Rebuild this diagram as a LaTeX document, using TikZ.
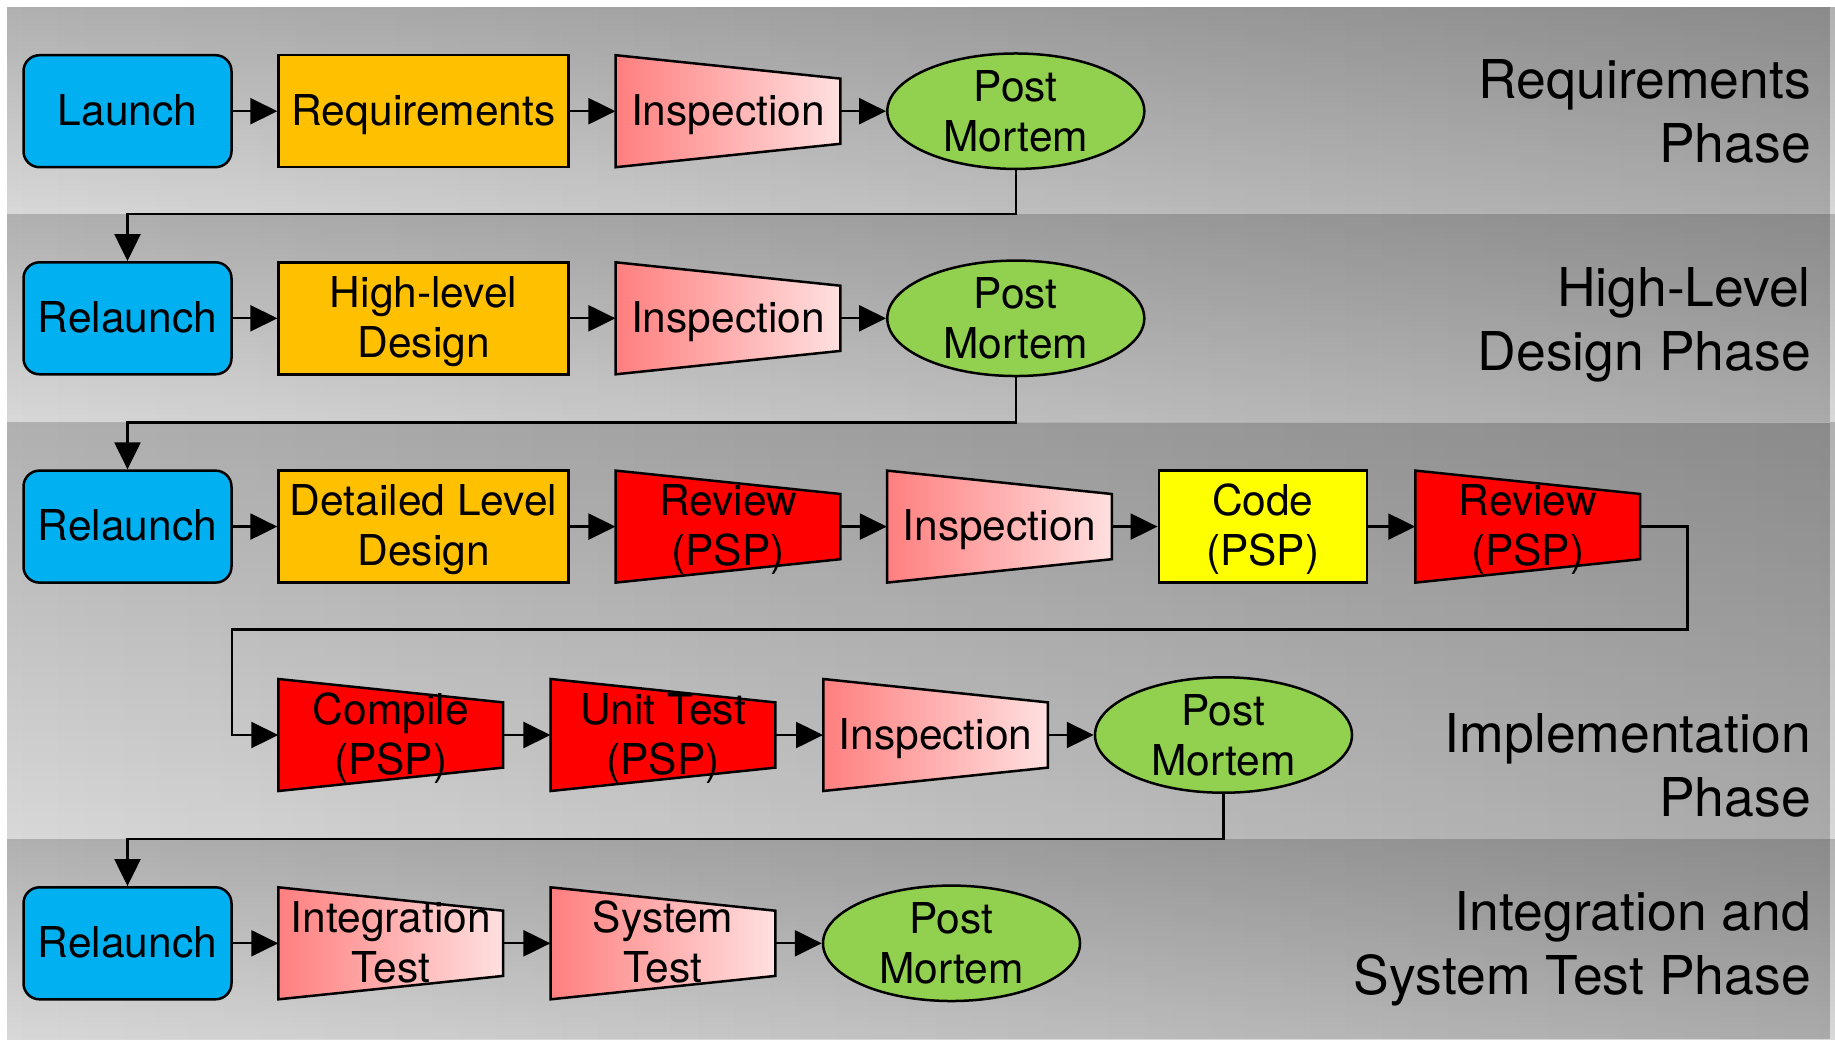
\documentclass[tikz,border=0pt]{standalone}
\usepackage{fontspec}
\setmainfont{TeX Gyre Heros}
\usetikzlibrary{shapes.geometric,arrows.meta,fadings}
\definecolor{cblue}{HTML}{00B0F0}
\definecolor{corange}{HTML}{FFC000}
\definecolor{cgreen}{HTML}{92D050}
\definecolor{cyellow}{HTML}{FFFF00}
\definecolor{cred}{HTML}{FF0000}
\definecolor{pinkL}{HTML}{FF7F7F}
\definecolor{pinkR}{HTML}{FFE0E0}
\definecolor{bTop}{HTML}{B0B0B0}
\definecolor{bBot}{HTML}{D8D8D8}
\newcommand\ls{\rule[-10pt]{0pt}{48pt}}
\newcommand\lp{\rule[-12pt]{0pt}{58pt}}
\newcommand\trapz[5]{%
  \path[#4, draw=black, line width=2.5pt, line join=miter]
    (#2-112.35,#3-56) -- (#2+112.35,#3-32.6) -- (#2+112.35,#3+32.6) -- (#2-112.35,#3+56) -- cycle;
  \node[txt, minimum width=224.7pt, minimum height=112pt] (#1) at (#2,#3) {#5};
}
\newcommand\bandrect[2]{%
  \shade[top color=bTop, bottom color=bBot] (7,#1) rectangle (1835,#2);
  \fill[black, fill opacity=0.21, path fading=west] (7,#1) rectangle (1835,#2);
}
\begin{document}
\begin{tikzpicture}[x=1pt,y=-1pt,
  txt/.style={inner sep=0pt, align=center, font=\fontsize{42.5}{50}\selectfont},
  roundbox/.style={txt, draw=black, line width=2.5pt, fill=cblue, rounded corners=16pt, minimum width=208pt, minimum height=112pt},
  rectbox/.style={txt, draw=black, line width=2.5pt, fill=corange, minimum width=290pt, minimum height=112pt},
  codebox/.style={txt, draw=black, line width=2.5pt, fill=cyellow, minimum width=208pt, minimum height=112pt},
  ell/.style={txt, ellipse, draw=black, line width=2.5pt, fill=cgreen, minimum width=257pt, minimum height=112pt},
  phase/.style={inner sep=0pt, align=right, anchor=east, font=\fontsize{53.5}{64}\selectfont},
  arr/.style={line width=2.3pt, -{Triangle[length=27pt,width=26pt]}}
]
\useasboundingbox (0,0) rectangle (1835,1039);
\fill[white] (0,0) rectangle (1835,1039);
% bands
\bandrect{7}{214.2}
\bandrect{214.2}{422.5}
\bandrect{422.5}{839.1}
\bandrect{839.1}{1039}
% phase labels
\node[phase] (ph1) at (1811,113) {\lp Requirements\\\lp Phase};
\node[phase] (ph2) at (1811,321) {\lp High-Level\\\lp Design Phase};
\node[phase] (ph3) at (1811,767) {\lp Implementation\\\lp Phase};
\node[phase] (ph4) at (1811,945) {\lp Integration and\\\lp System Test Phase};
% row 1
\node[roundbox] (la1) at (127.5,111.2) {\ls Launch};
\node[rectbox] (rq1) at (423.6,111.2) {\ls Requirements};
\trapz{in1}{728}{111.2}{left color=pinkL, right color=pinkR}{\ls Inspection}
\node[ell] (pm1) at (1015.8,111.2) {Post\\Mortem};
% row 2
\node[roundbox] (la2) at (127.5,318.3) {\ls Relaunch};
\node[rectbox] (rq2) at (423.6,318.3) {\ls High-level\\\ls Design};
\trapz{in2}{728}{318.3}{left color=pinkL, right color=pinkR}{\ls Inspection}
\node[ell] (pm2) at (1015.8,318.3) {Post\\Mortem};
% row 3
\node[roundbox] (la3) at (127.5,526.6) {\ls Relaunch};
\node[rectbox] (dl3) at (423.6,526.6) {\ls Detailed Level\\\ls Design};
\trapz{rv3}{728}{526.6}{fill=cred}{\ls Review\\\ls (PSP)}
\trapz{in3}{999.4}{526.6}{left color=pinkL, right color=pinkR}{\ls Inspection}
\node[codebox] (cd3) at (1262.8,526.6) {\ls Code\\\ls (PSP)};
\trapz{rw3}{1527.8}{526.6}{fill=cred}{\ls Review\\\ls (PSP)}
% row 4
\trapz{cp4}{390.8}{735}{fill=cred}{\ls Compile\\\ls (PSP)}
\trapz{ut4}{663}{735}{fill=cred}{\ls Unit Test\\\ls (PSP)}
\trapz{in4}{935.6}{735}{left color=pinkL, right color=pinkR}{\ls Inspection}
\node[ell] (pm4) at (1223.5,735) {Post\\Mortem};
% row 5
\node[roundbox] (la5) at (127.5,943.3) {\ls Relaunch};
\trapz{it5}{390.8}{943.3}{left color=pinkL, right color=pinkR}{\ls Integration\\\ls Test}
\trapz{st5}{663}{943.3}{left color=pinkL, right color=pinkR}{\ls System\\\ls Test}
\node[ell] (pm5) at (951.5,943.3) {Post\\Mortem};
% connectors
\draw[arr] (la1.east) -- (rq1.west);
\draw[arr] (rq1.east) -- (in1.west);
\draw[arr] (in1.east) -- (pm1.west);
\coordinate (k1) at (127.5,214.2);
\draw[arr] (pm1.south) |- (k1) -- (la2.north);
\draw[arr] (la2.east) -- (rq2.west);
\draw[arr] (rq2.east) -- (in2.west);
\draw[arr] (in2.east) -- (pm2.west);
\coordinate (k2) at (127.5,422.5);
\draw[arr] (pm2.south) |- (k2) -- (la3.north);
\draw[arr] (la3.east) -- (dl3.west);
\draw[arr] (dl3.east) -- (rv3.west);
\draw[arr] (rv3.east) -- (in3.west);
\draw[arr] (in3.east) -- (cd3.west);
\draw[arr] (cd3.east) -- (rw3.west);
\coordinate (k3) at (1687.6,629.6);
\coordinate (k4) at (231.7,629.6);
\draw[arr] (rw3.east) -| (k3) -- (k4) |- (cp4.west);
\draw[arr] (cp4.east) -- (ut4.west);
\draw[arr] (ut4.east) -- (in4.west);
\draw[arr] (in4.east) -- (pm4.west);
\coordinate (k5) at (127.5,839.1);
\draw[arr] (pm4.south) |- (k5) -- (la5.north);
\draw[arr] (la5.east) -- (it5.west);
\draw[arr] (it5.east) -- (st5.west);
\draw[arr] (st5.east) -- (pm5.west);
\end{tikzpicture}
\end{document}
